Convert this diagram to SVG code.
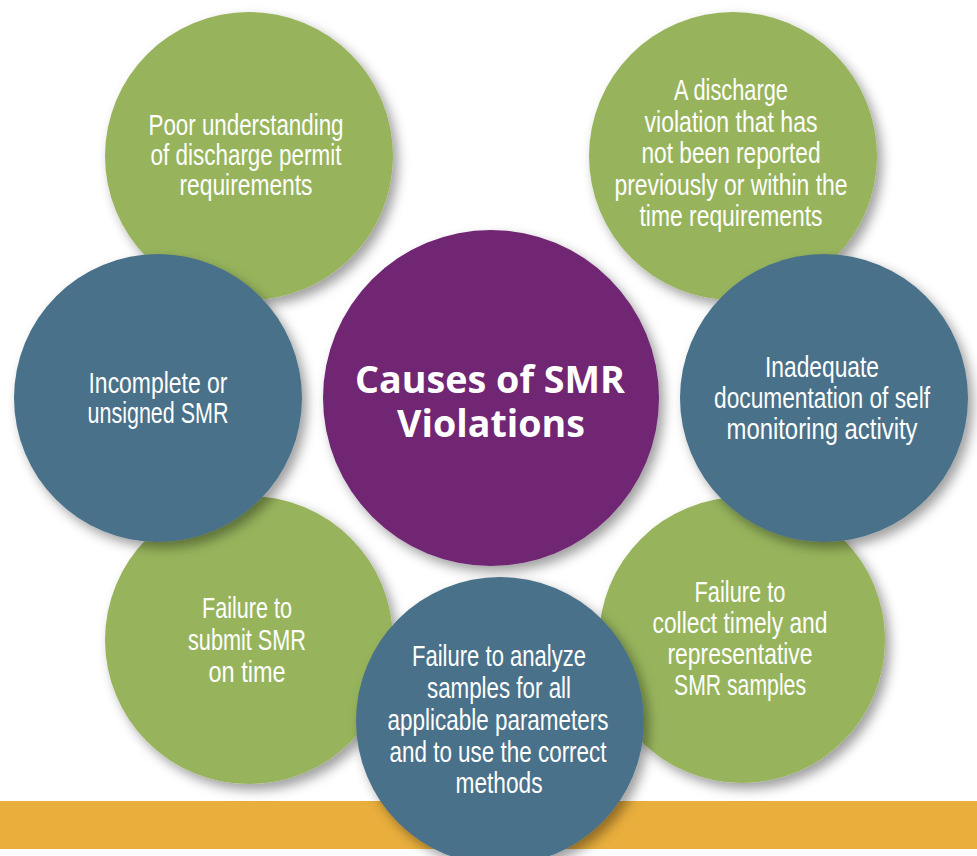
<svg xmlns="http://www.w3.org/2000/svg" width="977" height="856" viewBox="0 0 977 856">
  <defs>
    <!-- soft drop shadow cast down and to the right -->
    <filter id="shadow" x="-20%" y="-20%" width="145%" height="145%">
      <feGaussianBlur in="SourceAlpha" stdDeviation="6"/>
      <feOffset dx="5" dy="6" result="blur"/>
      <feFlood flood-color="#000" flood-opacity="0.38"/>
      <feComposite in2="blur" operator="in"/>
      <feMerge>
        <feMergeNode/>
        <feMergeNode in="SourceGraphic"/>
      </feMerge>
    </filter>
    <style>
      .green { fill: #97b45c; filter: url(#shadow); }
      .blue { fill: #4a7189; filter: url(#shadow); }
      .purple { fill: #6f2773; filter: url(#shadow); }
      .label { font-family: "Liberation Sans", Arial, sans-serif; font-size: 29px; fill: #ffffff; text-anchor: middle; }
      .title { font-family: "Open Sans", "Liberation Sans", sans-serif; font-weight: bold; font-size: 37px; fill: #ffffff; text-anchor: middle; }
    </style>
  </defs>

  <rect width="977" height="856" fill="#ffffff"/>

  <!-- footer band -->
  <rect id="footer-band" x="0" y="801" width="977" height="48" fill="#e9ae3c"/>

  <g id="poor-understanding">
    <circle class="green" cx="249" cy="156" r="144"/>
    <text class="label" x="246" y="135" textLength="195" lengthAdjust="spacingAndGlyphs">Poor understanding</text>
    <text class="label" x="246" y="165" textLength="191" lengthAdjust="spacingAndGlyphs">of discharge permit</text>
    <text class="label" x="246" y="195" textLength="133" lengthAdjust="spacingAndGlyphs">requirements</text>
  </g>

  <g id="unreported-violation">
    <circle class="green" cx="733" cy="156" r="144"/>
    <text class="label" x="731" y="100" textLength="114" lengthAdjust="spacingAndGlyphs">A discharge</text>
    <text class="label" x="731" y="132" textLength="173" lengthAdjust="spacingAndGlyphs">violation that has</text>
    <text class="label" x="731" y="163" textLength="179" lengthAdjust="spacingAndGlyphs">not been reported</text>
    <text class="label" x="731" y="195" textLength="233" lengthAdjust="spacingAndGlyphs">previously or within the</text>
    <text class="label" x="731" y="226" textLength="183" lengthAdjust="spacingAndGlyphs">time requirements</text>
  </g>

  <g id="late-submission">
    <circle class="green" cx="249" cy="640" r="144"/>
    <text class="label" x="247" y="618" textLength="90" lengthAdjust="spacingAndGlyphs">Failure to</text>
    <text class="label" x="247" y="650" textLength="118" lengthAdjust="spacingAndGlyphs">submit SMR</text>
    <text class="label" x="247" y="682" textLength="77" lengthAdjust="spacingAndGlyphs">on time</text>
  </g>

  <g id="sample-collection">
    <circle class="green" cx="742" cy="640" r="143"/>
    <text class="label" x="740" y="602" textLength="91" lengthAdjust="spacingAndGlyphs">Failure to</text>
    <text class="label" x="740" y="633" textLength="175" lengthAdjust="spacingAndGlyphs">collect timely and</text>
    <text class="label" x="740" y="664" textLength="145" lengthAdjust="spacingAndGlyphs">representative</text>
    <text class="label" x="740" y="695" textLength="132" lengthAdjust="spacingAndGlyphs">SMR samples</text>
  </g>

  <g id="causes">
    <circle class="purple" cx="491" cy="398" r="168"/>
    <text class="title" x="490" y="393" textLength="270" lengthAdjust="spacingAndGlyphs">Causes of SMR</text>
    <text class="title" x="491" y="437" textLength="188" lengthAdjust="spacingAndGlyphs">Violations</text>
  </g>

  <g id="incomplete-smr">
    <circle class="blue" cx="158" cy="398" r="144"/>
    <text class="label" x="158" y="393" textLength="139" lengthAdjust="spacingAndGlyphs">Incomplete or</text>
    <text class="label" x="158" y="423" textLength="141" lengthAdjust="spacingAndGlyphs">unsigned SMR</text>
  </g>

  <g id="inadequate-documentation">
    <circle class="blue" cx="824" cy="398" r="144"/>
    <text class="label" x="822" y="377" textLength="114" lengthAdjust="spacingAndGlyphs">Inadequate</text>
    <text class="label" x="822" y="408" textLength="216" lengthAdjust="spacingAndGlyphs">documentation of self</text>
    <text class="label" x="822" y="439" textLength="191" lengthAdjust="spacingAndGlyphs">monitoring activity</text>
  </g>

  <g id="analysis-methods">
    <circle class="blue" cx="500" cy="721" r="144"/>
    <text class="label" x="499" y="666" textLength="174" lengthAdjust="spacingAndGlyphs">Failure to analyze</text>
    <text class="label" x="499" y="698" textLength="144" lengthAdjust="spacingAndGlyphs">samples for all</text>
    <text class="label" x="498" y="730" textLength="221" lengthAdjust="spacingAndGlyphs">applicable parameters</text>
    <text class="label" x="498" y="762" textLength="217" lengthAdjust="spacingAndGlyphs">and to use the correct</text>
    <text class="label" x="499" y="793" textLength="87" lengthAdjust="spacingAndGlyphs">methods</text>
  </g>
</svg>
